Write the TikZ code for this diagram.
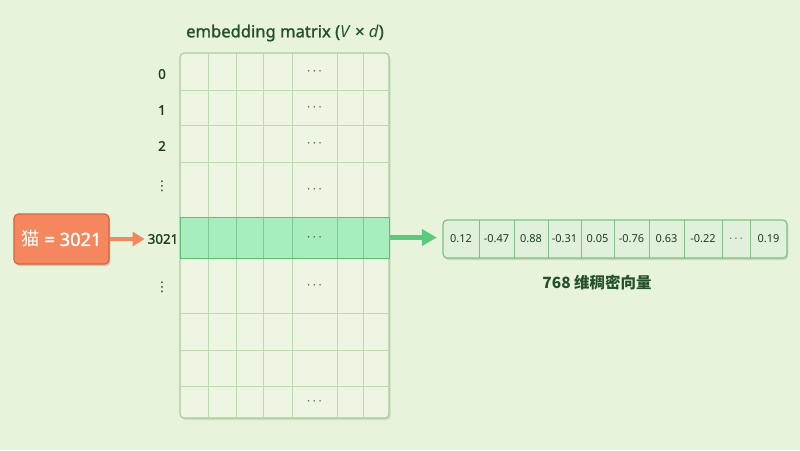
\documentclass[tikz,border=0pt]{standalone}
\usepackage{fontspec}
\setmainfont{Noto Sans}[AutoFakeBold=1.4]
\newfontfamily\cjk{Noto Sans CJK SC}
\newfontfamily\sym{DejaVu Sans}
\usepackage{tikz}
\usetikzlibrary{arrows.meta,positioning,shadows}

\definecolor{bgc}{HTML}{E8F3DC}
\definecolor{matfill}{HTML}{EEF6E3}
\definecolor{matline}{HTML}{A6CC98}
\definecolor{gridc}{HTML}{BCDAB0}
\definecolor{hlfill}{HTML}{A8EDBE}
\definecolor{hlline}{HTML}{5DBE76}
\definecolor{keyfill}{HTML}{F4875E}
\definecolor{keyline}{HTML}{D7633E}
\definecolor{arrg}{HTML}{5CC97E}
\definecolor{vecfill}{HTML}{E1F0DA}
\definecolor{vecline}{HTML}{7DBF84}
\definecolor{txt}{HTML}{1F3D20}
\definecolor{ttlc}{HTML}{24502A}

\begin{document}
\begin{tikzpicture}[
  x=0.025cm, y=-0.025cm,
  font=\small,
  matb/.style={draw=matline, fill=matfill, line width=0.8pt, rounded corners=3pt,
    drop shadow={shadow xshift=1.2pt, shadow yshift=-1.5pt, opacity=0.12, fill=black!70!green}},
  grid/.style={draw=gridc, line width=0.6pt},
  hl/.style={draw=hlline, fill=hlfill, line width=0.6pt},
  hlgrid/.style={draw=hlline!80, line width=0.5pt},
  dots/.style={font=\small, text=txt},
  idx/.style={font=\bfseries\fontsize{9.5}{10}\selectfont, text=txt, inner sep=1pt},
  ttl/.style={font=\bfseries\fontsize{11.8}{13}\selectfont, text=ttlc},
  key/.style={draw=keyline, fill=keyfill, rounded corners=3pt, line width=0.8pt,
    text=white, font=\bfseries\fontsize{13}{14}\selectfont,
    drop shadow={shadow xshift=1pt, shadow yshift=-1.5pt, opacity=0.18, fill=black!60!red}},
  vecb/.style={draw=vecline, fill=vecfill, rounded corners=3pt, line width=0.8pt,
    drop shadow={shadow xshift=1pt, shadow yshift=-1.5pt, opacity=0.14, fill=black!70!green}},
  vgrid/.style={draw=vecline, line width=0.5pt},
  val/.style={font=\fontsize{7.8}{9}\selectfont, text=txt},
  lab/.style={font=\cjk\bfseries\fontsize{11}{13}\selectfont, text=ttlc},
  arrO/.style={-{Triangle[length=3mm,width=3.5mm]}, draw=keyfill, line width=2.8pt},
  arrG/.style={-{Triangle[length=3.7mm,width=4mm]}, draw=arrg, line width=3pt}
]
\useasboundingbox (0,0) rectangle (800,450);
\fill[bgc] (0,0) rectangle (800,450);

% Title
\node[ttl] (title) at (285,33) {embedding matrix (\textit{V} × \textit{d})};

% Embedding matrix
\node[matb, minimum width=5.225cm, minimum height=9.125cm] (mat) at (284.5,235.5) {};
\foreach \x in {208,236,263,292,337,363} \draw[grid] (\x,53) -- (\x,418);
\foreach \y in {90,125,162,217,258,313,350,386} \draw[grid] (180,\y) -- (389,\y);

% Selected row
\node[hl, minimum width=5.225cm, minimum height=1.025cm] (row) at (284.5,237.5) {};
\foreach \x in {208,236,263,292,337,363} \draw[hlgrid] (\x,217) -- (\x,258);

\foreach \y [count=\i] in {71.5,107.5,143.5,189.5,237.5,285.5,402}
  \node[dots] (dot\i) at (314.5,\y) {$\cdots$};

% Row indices
\node[idx] (i0) at (162,74) {0};
\node[idx] (i1) at (162,110) {1};
\node[idx] (i2) at (162,146) {2};
\node[idx] (ia) at (162,186) {\sym\mdseries ⋮};
\node[idx] (i3021) at (163,239) {3021};
\node[idx] (ib) at (162,287) {\sym\mdseries ⋮};

% Token id
\node[key, minimum width=2.375cm, minimum height=1.25cm] (cat) at (61.5,239) {{\cjk\mdseries 猫} = 3021};
\draw[arrO, shorten >=1pt] (cat.east) -- (i3021.west);

% Output vector
\node[vecb, minimum width=8.6cm, minimum height=0.95cm] (vec) at (615,239) {};
\foreach \x in {479,514,548,581,614,649,684,722,750} \draw[vgrid] (\x,220) -- (\x,258);
\foreach \x/\v [count=\i] in {461/0.12, 496.5/-0.47, 531/0.88, 564.5/-0.31, 597.5/0.05,
    631.5/-0.76, 666.5/0.63, 703/-0.22, 736/$\cdots$, 768.5/0.19}
  \node[val] (v\i) at (\x,239) {\v};

\draw[arrG, shorten >=4pt] (row.east) -- (row.east -| vec.west);

\node[lab] (dim) at (597,283) {768 维稠密向量};

\end{tikzpicture}
\end{document}
